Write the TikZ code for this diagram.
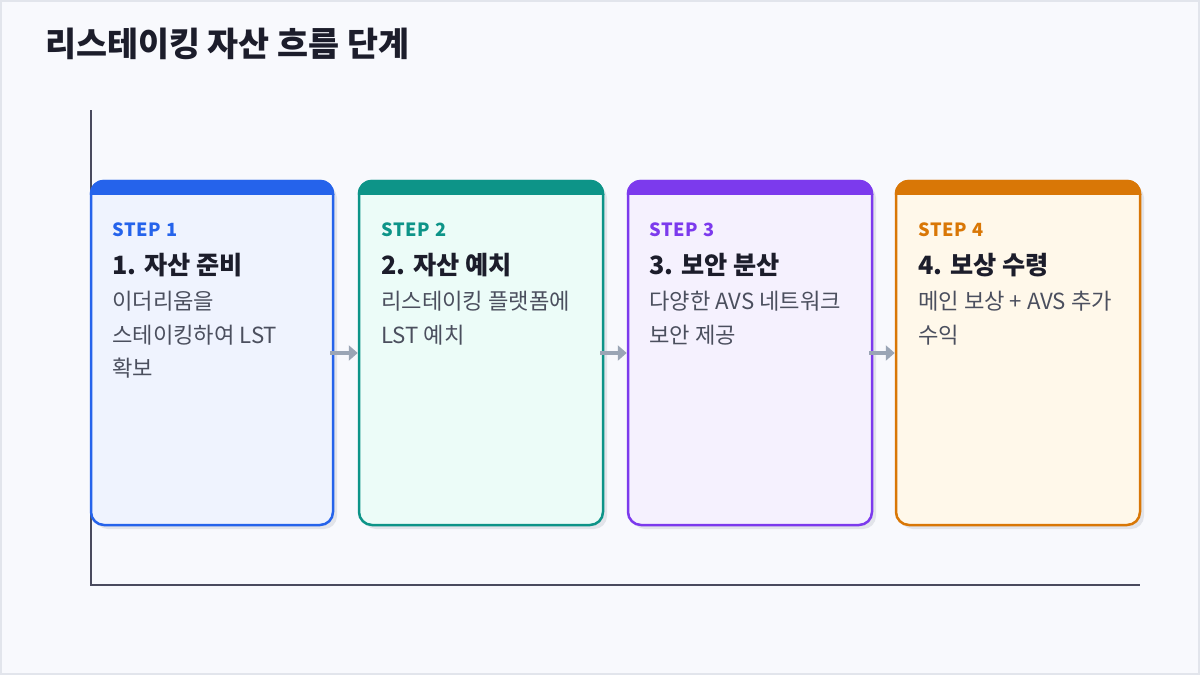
\documentclass[tikz,border=0pt]{standalone}
\usepackage{fontspec}
\setmainfont{Noto Sans CJK KR}
\usetikzlibrary{arrows.meta,calc}

\definecolor{pagebg}{HTML}{F8F9FD}
\definecolor{pageframe}{HTML}{E2E5EC}
\definecolor{axisgray}{HTML}{4A4B5E}
\definecolor{titleink}{HTML}{1C1D2B}
\definecolor{bodyink}{HTML}{4B4F5E}
\definecolor{arrowgray}{HTML}{9AA5B5}
\definecolor{shadowgray}{HTML}{E2E4EA}
\definecolor{stepblue}{HTML}{2563EB}
\definecolor{fillblue}{HTML}{EFF3FE}
\definecolor{stepteal}{HTML}{0D9488}
\definecolor{fillteal}{HTML}{ECFCF8}
\definecolor{steppurple}{HTML}{7C3AED}
\definecolor{fillpurple}{HTML}{F5F1FE}
\definecolor{steporange}{HTML}{D97706}
\definecolor{fillorange}{HTML}{FFF8EA}

\tikzset{
  card/.style={rectangle, rounded corners=13pt, line width=2.5pt, inner sep=0pt,
    minimum width=242pt, minimum height=344pt},
  cardshadow/.style={fill=shadowgray, rounded corners=13pt},
  steptag/.style={anchor=west, inner sep=0pt, font=\fontsize{18.2}{21}\selectfont\bfseries\addfontfeature{LetterSpace=4}},
  steptitle/.style={anchor=west, inner sep=0pt, text=titleink, font=\fontsize{25.2}{30}\selectfont\bfseries},
  stepbody/.style={anchor=north west, inner sep=0pt, align=left, text=bodyink, font=\fontsize{22.2}{33.5}\selectfont},
  flowarrow/.style={draw=arrowgray, line width=3.5pt, -{Triangle[length=9pt,width=15pt]}, shorten <=-4pt},
  axisline/.style={draw=axisgray, line width=1.5pt}
}

\begin{document}
\begin{tikzpicture}[x=1pt,y=1pt,yscale=-1,xscale=1]
\useasboundingbox (0,0) rectangle (1200,675);

% Shape: page
\draw[fill=pagebg, draw=pageframe, line width=1.5pt] (1,1) rectangle (1199,674);

% Text Node
\node[anchor=west, inner sep=0pt, text=titleink, font=\fontsize{33.7}{38}\selectfont\bfseries] (title) at (45,44) {리스테이킹 자산 흐름 단계};

% Shape: axes
\coordinate (origin) at (91,585);
\coordinate (ytop) at (91,110);
\coordinate (xend) at (1140,585);
\draw[axisline] (ytop) -- (origin) -- (xend);

% Shape: shadows
\fill[cardshadow] (95,185) rectangle (337,529);
\fill[cardshadow] (363,185) rectangle (607,529);
\fill[cardshadow] (632,185) rectangle (876,529);
\fill[cardshadow] (900,185) rectangle (1144,529);

% Shape: cards
\node[card, draw=stepblue, fill=fillblue] (box1) at (212,353) {};
\node[card, draw=stepteal, fill=fillteal, minimum width=244pt] (box2) at (481,353) {};
\node[card, draw=steppurple, fill=fillpurple, minimum width=244pt] (box3) at (750,353) {};
\node[card, draw=steporange, fill=fillorange, minimum width=244pt] (box4) at (1018,353) {};

% Shape: top bands
\foreach \b/\c in {box1/stepblue, box2/stepteal, box3/steppurple, box4/steporange}{
  \begin{scope}
    \clip[rounded corners=14.25pt] (\b.south west) rectangle (\b.north east);
    \fill[\c] ($(\b.north west)+(-2,-2)$) rectangle ($(\b.north east)+(2,15)$);
  \end{scope}
}

% Shape: arrows
\draw[flowarrow] (box1.east) -- (box2.west);
\draw[flowarrow] (box2.east) -- (box3.west);
\draw[flowarrow] (box3.east) -- (box4.west);

% Text Node
\node[steptag, text=stepblue] (tag1) at (112,230) {STEP 1};
\node[steptitle] (head1) at (112,265) {1. 자산 준비};
\node[stepbody] (desc1) at (112,291) {이더리움을\\스테이킹하여 LST\\확보};

% Text Node
\node[steptag, text=stepteal] (tag2) at (381,230) {STEP 2};
\node[steptitle] (head2) at (381,265) {2. 자산 예치};
\node[stepbody] (desc2) at (381,291) {리스테이킹 플랫폼에\\LST 예치};

% Text Node
\node[steptag, text=steppurple] (tag3) at (649,230) {STEP 3};
\node[steptitle] (head3) at (649,265) {3. 보안 분산};
\node[stepbody] (desc3) at (649,291) {다양한 AVS 네트워크\\보안 제공};

% Text Node
\node[steptag, text=steporange] (tag4) at (918,230) {STEP 4};
\node[steptitle] (head4) at (918,265) {4. 보상 수령};
\node[stepbody] (desc4) at (918,291) {메인 보상 + AVS 추가\\수익};
\end{tikzpicture}
\end{document}
